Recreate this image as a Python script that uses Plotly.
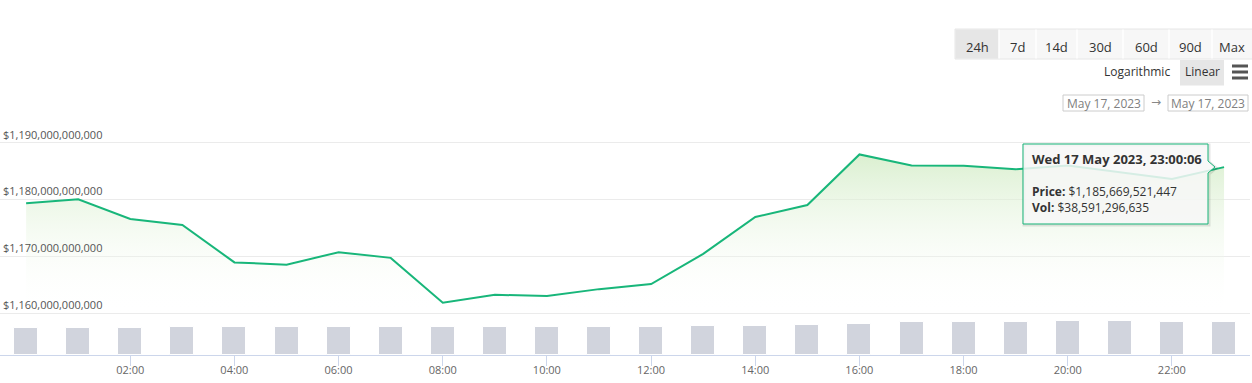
import plotly.graph_objects as go

# ---------------- data ----------------
times = [
    "2023-05-17 00:00:06", "2023-05-17 01:00:06", "2023-05-17 02:00:06", "2023-05-17 03:00:06",
    "2023-05-17 04:00:06", "2023-05-17 05:00:06", "2023-05-17 06:00:06", "2023-05-17 07:00:06",
    "2023-05-17 08:00:06", "2023-05-17 09:00:06", "2023-05-17 10:00:06", "2023-05-17 11:00:06",
    "2023-05-17 12:00:06", "2023-05-17 13:00:06", "2023-05-17 14:00:06", "2023-05-17 15:00:06",
    "2023-05-17 16:00:06", "2023-05-17 17:00:06", "2023-05-17 18:00:06", "2023-05-17 19:00:06",
    "2023-05-17 20:00:06", "2023-05-17 21:00:06", "2023-05-17 22:00:06", "2023-05-17 23:00:06",
]
price = [
    1_179_300_000_000, 1_180_000_000_000, 1_176_550_000_000, 1_175_500_000_000,
    1_168_900_000_000, 1_168_500_000_000, 1_170_700_000_000, 1_169_700_000_000,
    1_161_800_000_000, 1_163_200_000_000, 1_163_000_000_000, 1_164_200_000_000,
    1_165_100_000_000, 1_170_400_000_000, 1_176_900_000_000, 1_179_000_000_000,
    1_187_900_000_000, 1_185_950_000_000, 1_185_900_000_000, 1_185_300_000_000,
    1_185_950_000_000, 1_184_800_000_000, 1_183_600_000_000, 1_185_669_521_447,
]
volume = [
    31_500_000_000, 31_500_000_000, 31_500_000_000, 32_700_000_000,
    32_700_000_000, 32_700_000_000, 32_700_000_000, 32_700_000_000,
    33_400_000_000, 33_400_000_000, 33_400_000_000, 33_400_000_000,
    33_400_000_000, 34_600_000_000, 34_600_000_000, 35_800_000_000,
    36_900_000_000, 38_600_000_000, 38_600_000_000, 38_600_000_000,
    40_100_000_000, 40_100_000_000, 38_600_000_000, 38_591_296_635,
]
x_tick_vals = ["2023-05-17 02:00", "2023-05-17 04:00", "2023-05-17 06:00", "2023-05-17 08:00",
               "2023-05-17 10:00", "2023-05-17 12:00", "2023-05-17 14:00", "2023-05-17 16:00",
               "2023-05-17 18:00", "2023-05-17 20:00", "2023-05-17 22:00"]
range_buttons = ["24h", "7d", "14d", "30d", "60d", "90d", "Max"]
date_from = "May 17, 2023"
date_to = "May 17, 2023"
tooltip_title = "Wed 17 May 2023, 23:00:06"

# ---------------- layout geometry ----------------
WIDTH, HEIGHT = 1252, 383
L, R, T, B = 0, 2, 120, 28
PW, PH = WIDTH - L - R, HEIGHT - T - B
BOTTOM = HEIGHT - B


def px(x):
    return (x - L) / PW


def py(y):
    return (BOTTOM - y) / PH


LINE = "rgb(24,182,122)"
FONT = "Open Sans"

fig = go.Figure()
fig.add_trace(go.Scatter(
    x=times, y=price, mode="lines",
    line=dict(color=LINE, width=2),
    fill="tozeroy",
    fillgradient=dict(type="vertical",
                      colorscale=[[0, "rgba(255,255,255,0)"], [1, "rgba(206,234,192,0.85)"]],
                      start=1_160_000_000_000, stop=1_190_000_000_000),
    hoverinfo="skip", showlegend=False,
))
fig.add_trace(go.Bar(
    x=times, y=volume, yaxis="y2",
    marker=dict(color="rgb(209,212,221)", line=dict(color="white", width=1)),
    width=1_660_000, hoverinfo="skip", showlegend=False,
))

shapes = []
annotations = []

# range selector buttons
btn_edges = [955, 999, 1036, 1077, 1123, 1169, 1212, 1256]
shapes.append(dict(type="rect", xref="paper", yref="paper",
                   x0=px(955), x1=px(1256), y0=py(29), y1=py(59),
                   fillcolor="#f7f7f7", line=dict(color="#e6e6e6", width=1), layer="above"))
shapes.append(dict(type="rect", xref="paper", yref="paper",
                   x0=px(955.5), x1=px(999), y0=py(29.5), y1=py(58.5),
                   fillcolor="#e6e6e6", line=dict(width=0), layer="above"))
for e in btn_edges[1:-1]:
    shapes.append(dict(type="line", xref="paper", yref="paper",
                       x0=px(e), x1=px(e), y0=py(29.5), y1=py(58.5),
                       line=dict(color="white", width=1.5), layer="above"))
for i, lab in enumerate(range_buttons):
    cx = (btn_edges[i] + btn_edges[i + 1]) / 2 if i < len(range_buttons) - 1 else 1232
    annotations.append(dict(xref="paper", yref="paper", x=px(cx), y=py(46.5),
                            text=lab, showarrow=False, xanchor="center", yanchor="middle",
                            font=dict(family=FONT, size=13, color="#333")))

# Logarithmic / Linear + hamburger
annotations.append(dict(xref="paper", yref="paper", x=px(1137), y=py(72),
                        text="Logarithmic", showarrow=False, xanchor="center", yanchor="middle",
                        font=dict(family=FONT, size=12, color="#333")))
shapes.append(dict(type="rect", xref="paper", yref="paper",
                   x0=px(1180), x1=px(1224), y0=py(60), y1=py(85.5),
                   fillcolor="#e6e6e6", line=dict(width=0), layer="above"))
annotations.append(dict(xref="paper", yref="paper", x=px(1202), y=py(72),
                        text="Linear", showarrow=False, xanchor="center", yanchor="middle",
                        font=dict(family=FONT, size=12, color="#333")))
for yy in (66, 72, 78):
    shapes.append(dict(type="line", xref="paper", yref="paper",
                       x0=px(1232), x1=px(1248), y0=py(yy), y1=py(yy),
                       line=dict(color="#555", width=3), layer="above"))

# date inputs
for (x0, x1, txt) in ((1063, 1144, date_from), (1168, 1248, date_to)):
    shapes.append(dict(type="rect", xref="paper", yref="paper",
                       x0=px(x0), x1=px(x1), y0=py(95), y1=py(111),
                       fillcolor="white", line=dict(color="#cccccc", width=1), layer="above"))
    annotations.append(dict(xref="paper", yref="paper", x=px((x0 + x1) / 2), y=py(103),
                            text=txt, showarrow=False, xanchor="center", yanchor="middle",
                            font=dict(family=FONT, size=12, color="#808080")))
annotations.append(dict(xref="paper", yref="paper", x=px(1156), y=py(102),
                        text="→", showarrow=False, xanchor="center", yanchor="middle",
                        font=dict(family="DejaVu Sans", size=12, color="#888")))

# tooltip callout
def path(pts):
    return "M " + " L ".join(f"{px(a):.5f},{py(b):.5f}" for a, b in pts) + " Z"

tip = [(1023, 144), (1208, 144), (1208, 161), (1215, 167), (1208, 173), (1208, 224), (1023, 224)]
shadow = [(a + 1, b + 1) for a, b in tip]
shapes.append(dict(type="path", xref="paper", yref="paper", path=path(shadow),
                   fillcolor="rgba(0,0,0,0)", line=dict(color="rgba(0,0,0,0.10)", width=3), layer="above"))
shapes.append(dict(type="path", xref="paper", yref="paper", path=path(tip),
                   fillcolor="rgba(247,247,247,0.85)", line=dict(color=LINE, width=1), layer="above"))
annotations.append(dict(xref="paper", yref="paper", x=px(1030), y=py(159),
                        text=f"<b>{tooltip_title}</b>", showarrow=False, xanchor="left", yanchor="middle",
                        font=dict(family=FONT, size=13, color="#333")))
annotations.append(dict(xref="paper", yref="paper", x=px(1030), y=py(199.5),
                        text=f"<b>Price:</b> ${price[-1]:,}<br><b>Vol:</b> ${volume[-1]:,}",
                        showarrow=False, xanchor="left", yanchor="middle", align="left",
                        font=dict(family=FONT, size=12, color="#333")))

# price axis scale: 1160B at y=313, 1190B at y=142.5
ppb = (313 - 142.5) / 30.0
ymin = (1160 - (BOTTOM - 313) / ppb) * 1e9
ymax = (1190 + (142.5 - T) / ppb) * 1e9
vmax = 38_591_296_635 * PH / 32.7

fig.update_layout(
    width=WIDTH, height=HEIGHT, autosize=False,
    margin=dict(l=L, r=R, t=T, b=B),
    paper_bgcolor="white", plot_bgcolor="white",
    showlegend=False, bargap=0,
    xaxis=dict(type="date", range=["2023-05-16 23:30", "2023-05-17 23:30"],
               tickvals=x_tick_vals, tickformat="%H:%M",
               showgrid=False, zeroline=False,
               showline=True, linecolor="#ccd6eb", linewidth=1,
               ticks="outside", ticklen=10, tickcolor="#ccd6eb", tickwidth=1,
               ticklabelstandoff=-5,
               tickfont=dict(family=FONT, size=11, color="#666")),
    yaxis=dict(range=[ymin, ymax], dtick=10_000_000_000, tick0=0,
               tickprefix="$", tickformat=",.0f",
               ticklabelposition="inside top",
               showgrid=True, gridcolor="#ebebeb", gridwidth=1,
               zeroline=False, showline=False, ticks="",
               tickfont=dict(family=FONT, size=11, color="#555")),
    yaxis2=dict(range=[0, vmax], overlaying="y", visible=False),
    shapes=shapes, annotations=annotations,
)

fig.write_html("out.html", config={"displayModeBar": False},
               post_script="document.body.style.margin='0';document.body.style.overflow='hidden';")
